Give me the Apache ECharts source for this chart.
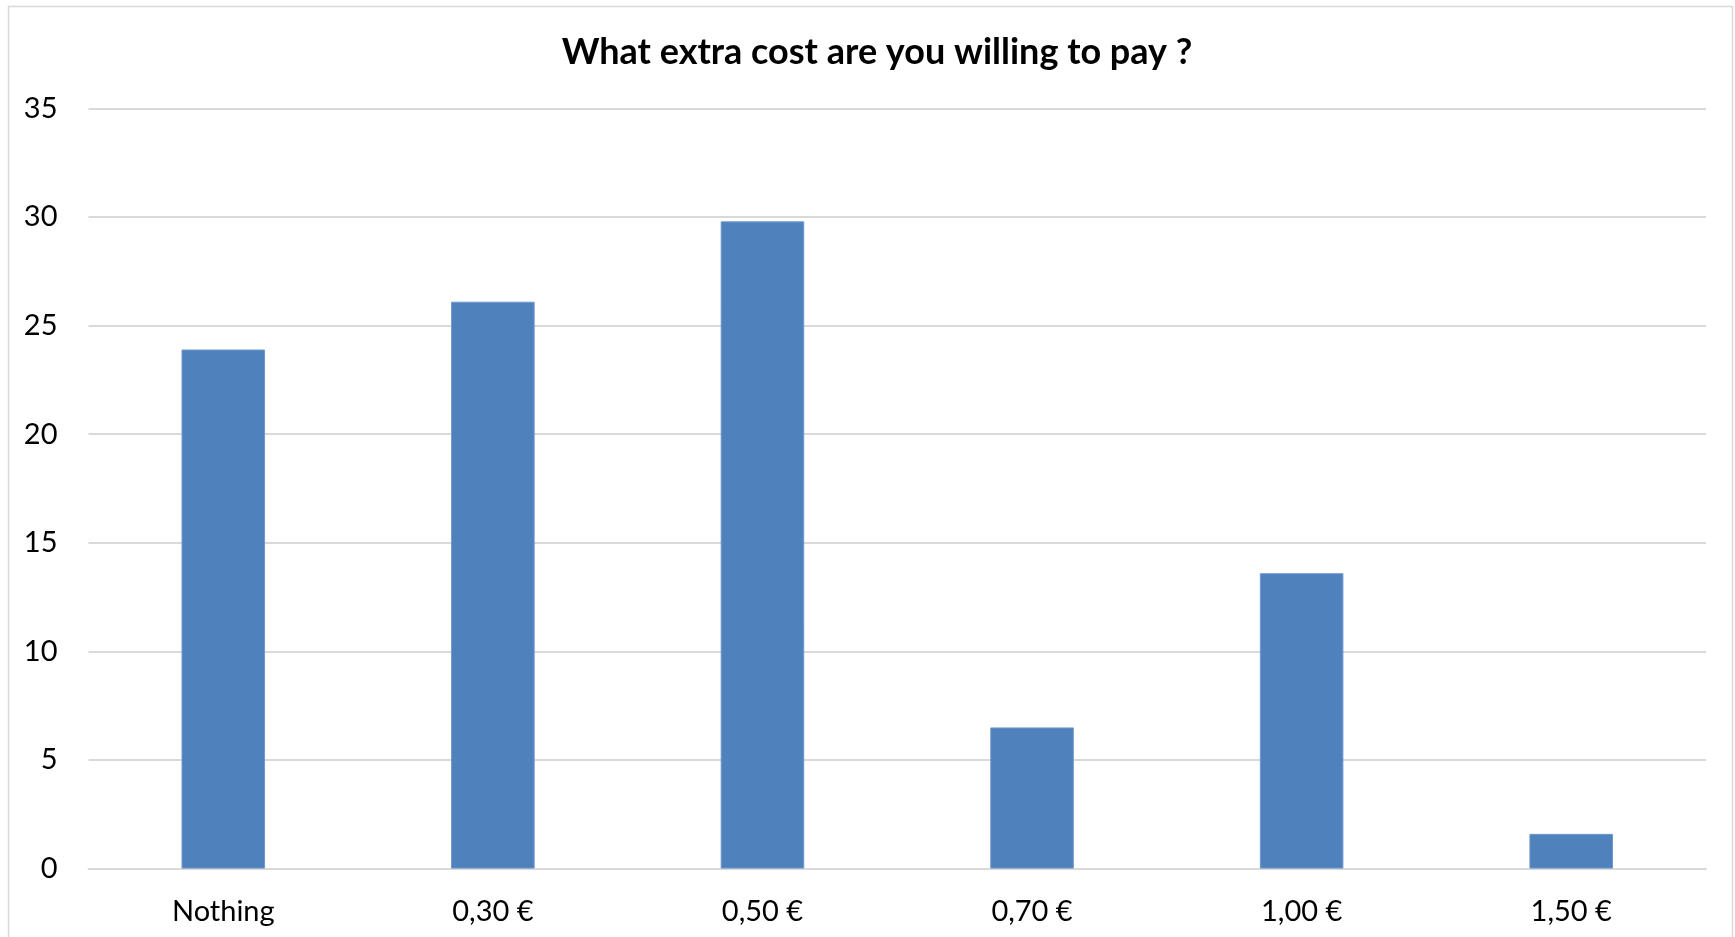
<!DOCTYPE html>
<html>
<head>
<meta charset="utf-8">
<title>What extra cost are you willing to pay ?</title>
<script src="https://cdn.jsdelivr.net/npm/echarts@6/dist/echarts.min.js"></script>
<style>
  html, body { margin: 0; padding: 0; background: #ffffff; }
  #chart { width: 1735px; height: 937px; }
</style>
</head>
<body>
<div id="chart"></div>
<script>
// Survey answers: extra cost respondents would accept
const categories = ['Nothing', '0,30 €', '0,50 €', '0,70 €', '1,00 €', '1,50 €'];
const values = [23.9, 26.1, 29.8, 6.5, 13.6, 1.6];
const yTicks = { min: 0, max: 35, interval: 5 };

const FONT = 'Lato, "Open Sans", "Noto Sans", sans-serif';
const chart = echarts.init(document.getElementById('chart'), null, { renderer: 'canvas' });

chart.setOption({
  backgroundColor: '#ffffff',
  animation: false,
  title: {
    text: 'What extra cost are you willing to pay ?',
    left: 872,
    textAlign: 'center',
    top: 29,
    textStyle: { fontFamily: FONT, fontWeight: 'bold', fontSize: 36, color: '#000000' }
  },
  graphic: [{
    type: 'rect',
    shape: { x: 8.5, y: 6.5, width: 1724, height: 1000 },
    style: { fill: 'none', stroke: '#d9d9d9', lineWidth: 1.5 },
    silent: true
  }],
  grid: { left: 88.5, right: 29, top: 108.4, bottom: 68.4, containLabel: false },
  xAxis: {
    type: 'category',
    data: categories,
    axisLine: { show: true, lineStyle: { color: '#d9d9d9', width: 2 } },
    axisTick: { show: false },
    axisLabel: { margin: 29, fontFamily: FONT, fontSize: 29, color: '#000000' }
  },
  yAxis: {
    type: 'value',
    min: yTicks.min,
    max: yTicks.max,
    interval: yTicks.interval,
    axisLine: { show: false },
    axisTick: { show: false },
    splitLine: { lineStyle: { color: '#d9d9d9', width: 2 } },
    axisLabel: { margin: 31, fontFamily: FONT, fontSize: 29, color: '#000000' }
  },
  series: [{
    type: 'bar',
    data: values,
    barWidth: '31%',
    itemStyle: { color: '#4f81bd', borderColor: '#6f98cc', borderWidth: 1 }
  }]
});
</script>
</body>
</html>
